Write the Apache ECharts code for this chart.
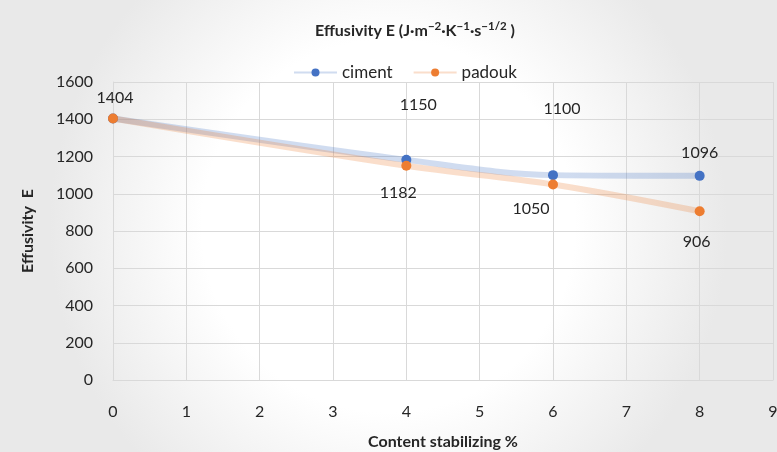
<!DOCTYPE html>
<html>
<head>
<meta charset="utf-8">
<script src="https://cdn.jsdelivr.net/npm/echarts@6/dist/echarts.min.js"></script>
<style>
  html, body { margin: 0; padding: 0; }
  #chart { width: 777px; height: 452px; }
</style>
</head>
<body>
<div id="chart"></div>
<script>
// Stabilizer content (%) and measured effusivity for each material
const contents = [0, 4, 6, 8];
const cimentValues = [1404, 1182, 1100, 1096];
const padoukValues = [1404, 1150, 1050, 906];
const yTicks = { min: 0, max: 1600, step: 200 };
const xTicks = { min: 0, max: 9, step: 1 };

// Where each value label sits relative to its marker (null = no label)
const cimentLabelOffsets = [[2, -21], [-8, 33], [9, -66], [0, -23]];
const padoukLabelOffsets = [null, [12, -61], [-22, 24], [-3, 31]];

const FONT = 'Lato, "Open Sans", sans-serif';
const TEXT = '#262626';

function buildData(values, offsets) {
  return contents.map((x, i) => {
    const item = { value: [x, values[i]] };
    if (offsets[i]) {
      item.label = { show: true, position: 'inside', offset: offsets[i] };
    }
    return item;
  });
}

function makeSeries(name, color, lineColor, values, offsets) {
  return {
    name: name,
    type: 'line',
    smooth: 0.35,
    symbol: 'circle',
    symbolSize: 10,
    itemStyle: { color: color },
    lineStyle: { color: lineColor, width: 6 },
    label: {
      show: false,
      color: TEXT,
      fontFamily: FONT,
      fontSize: 16,
      formatter: p => String(p.value[1])
    },
    emphasis: { disabled: true },
    data: buildData(values, offsets)
  };
}

const chart = echarts.init(document.getElementById('chart'), null, { renderer: 'canvas' });
chart.setOption({
  animation: false,
  backgroundColor: {
    type: 'radial', x: 0.5, y: 0.5, r: 0.75,
    colorStops: [
      { offset: 0, color: '#ffffff' },
      { offset: 0.55, color: '#ffffff' },
      { offset: 1, color: '#e9e9e9' }
    ]
  },
  title: {
    text: '{b|Effusivity E (J·m}{s|−2}{b|·K}{s|−1}{b|·s}{s|−1/2}{b| )}',
    left: 310,
    top: 15,
    textStyle: {
      rich: {
        b: { fontFamily: FONT, fontSize: 16, fontWeight: 'bold', color: TEXT, lineHeight: 22 },
        s: { fontFamily: FONT, fontSize: 11.5, fontWeight: 'bold', color: TEXT, lineHeight: 17, verticalAlign: 'top' }
      }
    }
  },
  legend: {
    top: 59,
    left: 288,
    itemWidth: 43,
    itemHeight: 10,
    itemGap: 20,
    textStyle: { fontFamily: FONT, fontSize: 17, color: TEXT },
    data: ['ciment', 'padouk']
  },
  grid: { left: 113, right: 4, top: 82, bottom: 72, containLabel: false, outerBoundsMode: 'none' },
  xAxis: {
    type: 'value',
    min: xTicks.min,
    max: xTicks.max,
    interval: xTicks.step,
    name: 'Content stabilizing %',
    nameLocation: 'middle',
    nameGap: 54,
    nameTextStyle: { fontFamily: FONT, fontSize: 16, fontWeight: 'bold', color: TEXT },
    axisLine: { show: true, lineStyle: { color: '#d9d9d9' } },
    axisTick: { show: false },
    axisLabel: { fontFamily: FONT, fontSize: 16, color: TEXT, margin: 24 },
    splitLine: { show: true, lineStyle: { color: '#d9d9d9', width: 1 } }
  },
  yAxis: {
    type: 'value',
    min: yTicks.min,
    max: yTicks.max,
    interval: yTicks.step,
    name: 'Effusivity  E',
    nameLocation: 'middle',
    nameGap: 77,
    nameTextStyle: { fontFamily: FONT, fontSize: 16, fontWeight: 'bold', color: TEXT },
    axisLine: { show: true, lineStyle: { color: '#d9d9d9' } },
    axisTick: { show: false },
    axisLabel: { fontFamily: FONT, fontSize: 16, color: TEXT, margin: 20, formatter: v => String(v) },
    splitLine: { show: true, lineStyle: { color: '#d9d9d9', width: 1 } }
  },
  series: [
    makeSeries('ciment', '#4472C4', 'rgba(68,114,196,0.25)', cimentValues, cimentLabelOffsets),
    makeSeries('padouk', '#ED7D31', 'rgba(237,125,49,0.25)', padoukValues, padoukLabelOffsets)
  ]
});
</script>
</body>
</html>
